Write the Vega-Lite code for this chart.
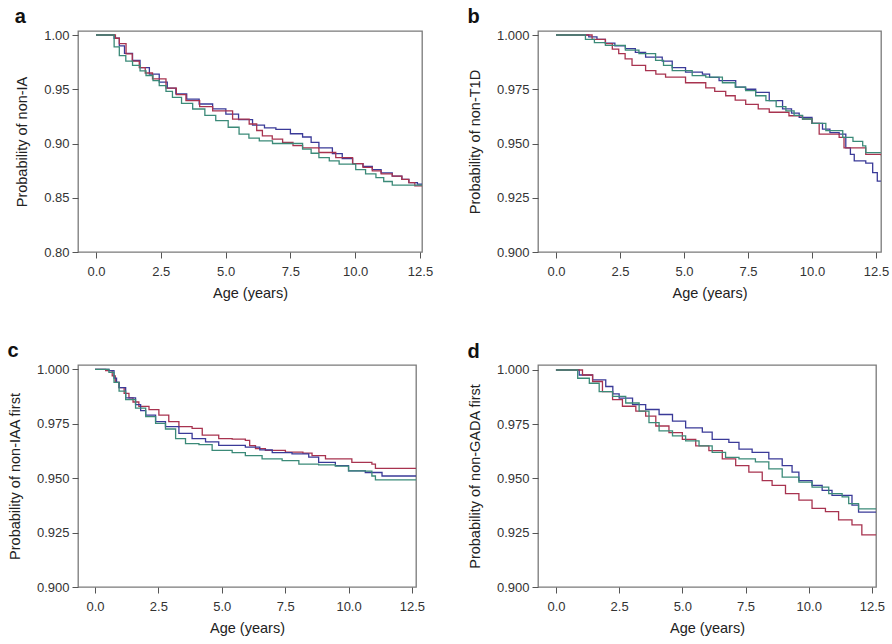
{
"$schema": "https://vega.github.io/schema/vega-lite/v6.json",
"padding": {"left": 6, "top": 6, "right": 5, "bottom": 3},
"background": "white",
"columns": 2,
"bounds": "flush",
"spacing": {"row": 113, "column": 116},
"config": {
  "font": "Liberation Sans",
  "view": {"stroke": "#7a7a7a", "strokeWidth": 1.3},
  "axis": {"grid": false, "domain": false, "tickColor": "#555", "tickSize": 6, "labelFontSize": 13, "labelColor": "#333", "titleFontSize": 14.5, "titleFontWeight": "normal", "titleColor": "#222", "labelPadding": 3},
  "axisX": {"labelPadding": 7, "titlePadding": 8},
  "axisY": {"titlePadding": 14},
  "title": {"anchor": "start", "frame": "bounds", "fontSize": 20, "fontWeight": "bold", "offset": 2, "color": "#111"}
},
"datasets": {
"a": [
{"age":0,"prob":1.0,"group":"G1"},{"age":0.6,"prob":1.0,"group":"G1"},{"age":0.7,"prob":0.997,"group":"G1"},{"age":0.9,"prob":0.99,"group":"G1"},{"age":1.1,"prob":0.983,"group":"G1"},{"age":1.41,"prob":0.9765,"group":"G1"},{"age":1.7,"prob":0.97,"group":"G1"},{"age":2.06,"prob":0.964,"group":"G1"},{"age":2.44,"prob":0.9565,"group":"G1"},{"age":2.75,"prob":0.951,"group":"G1"},{"age":3.08,"prob":0.9457,"group":"G1"},{"age":3.5,"prob":0.941,"group":"G1"},{"age":3.98,"prob":0.9364,"group":"G1"},{"age":4.5,"prob":0.932,"group":"G1"},{"age":5.01,"prob":0.927,"group":"G1"},{"age":5.5,"prob":0.922,"group":"G1"},{"age":6.04,"prob":0.917,"group":"G1"},{"age":6.5,"prob":0.9145,"group":"G1"},{"age":6.94,"prob":0.913,"group":"G1"},{"age":7.5,"prob":0.909,"group":"G1"},{"age":7.97,"prob":0.906,"group":"G1"},{"age":8.3,"prob":0.901,"group":"G1"},{"age":8.6,"prob":0.896,"group":"G1"},{"age":9.12,"prob":0.8907,"group":"G1"},{"age":9.5,"prob":0.886,"group":"G1"},{"age":9.9,"prob":0.8815,"group":"G1"},{"age":10.3,"prob":0.879,"group":"G1"},{"age":10.66,"prob":0.876,"group":"G1"},{"age":11.0,"prob":0.873,"group":"G1"},{"age":11.43,"prob":0.87,"group":"G1"},{"age":11.8,"prob":0.867,"group":"G1"},{"age":12.07,"prob":0.864,"group":"G1"},{"age":12.4,"prob":0.8625,"group":"G1"},{"age":12.58,"prob":0.8625,"group":"G1"},
{"age":0,"prob":1.0,"group":"G2"},{"age":0.6,"prob":1.0,"group":"G2"},{"age":0.75,"prob":0.997,"group":"G2"},{"age":0.9,"prob":0.992,"group":"G2"},{"age":1.16,"prob":0.9827,"group":"G2"},{"age":1.4,"prob":0.976,"group":"G2"},{"age":1.67,"prob":0.97,"group":"G2"},{"age":1.9,"prob":0.965,"group":"G2"},{"age":2.18,"prob":0.9596,"group":"G2"},{"age":2.7,"prob":0.951,"group":"G2"},{"age":3.1,"prob":0.945,"group":"G2"},{"age":3.47,"prob":0.9395,"group":"G2"},{"age":4.0,"prob":0.934,"group":"G2"},{"age":4.5,"prob":0.93,"group":"G2"},{"age":5.27,"prob":0.9225,"group":"G2"},{"age":5.91,"prob":0.918,"group":"G2"},{"age":6.2,"prob":0.912,"group":"G2"},{"age":6.42,"prob":0.907,"group":"G2"},{"age":6.8,"prob":0.904,"group":"G2"},{"age":7.2,"prob":0.901,"group":"G2"},{"age":7.6,"prob":0.898,"group":"G2"},{"age":7.97,"prob":0.896,"group":"G2"},{"age":8.6,"prob":0.8917,"group":"G2"},{"age":9.25,"prob":0.887,"group":"G2"},{"age":9.9,"prob":0.8815,"group":"G2"},{"age":10.3,"prob":0.878,"group":"G2"},{"age":10.66,"prob":0.8747,"group":"G2"},{"age":11.0,"prob":0.872,"group":"G2"},{"age":11.43,"prob":0.87,"group":"G2"},{"age":11.8,"prob":0.867,"group":"G2"},{"age":12.07,"prob":0.864,"group":"G2"},{"age":12.3,"prob":0.861,"group":"G2"},{"age":12.58,"prob":0.861,"group":"G2"},
{"age":0,"prob":1.0,"group":"G3"},{"age":0.6,"prob":1.0,"group":"G3"},{"age":0.7,"prob":0.989,"group":"G3"},{"age":0.9,"prob":0.981,"group":"G3"},{"age":1.15,"prob":0.976,"group":"G3"},{"age":1.41,"prob":0.972,"group":"G3"},{"age":1.7,"prob":0.967,"group":"G3"},{"age":1.93,"prob":0.9627,"group":"G3"},{"age":2.2,"prob":0.958,"group":"G3"},{"age":2.44,"prob":0.9534,"group":"G3"},{"age":2.7,"prob":0.948,"group":"G3"},{"age":2.95,"prob":0.9426,"group":"G3"},{"age":3.3,"prob":0.937,"group":"G3"},{"age":3.73,"prob":0.9318,"group":"G3"},{"age":4.2,"prob":0.926,"group":"G3"},{"age":4.62,"prob":0.921,"group":"G3"},{"age":5.1,"prob":0.915,"group":"G3"},{"age":5.52,"prob":0.9086,"group":"G3"},{"age":5.9,"prob":0.905,"group":"G3"},{"age":6.3,"prob":0.9025,"group":"G3"},{"age":6.81,"prob":0.9,"group":"G3"},{"age":7.45,"prob":0.9,"group":"G3"},{"age":7.97,"prob":0.8948,"group":"G3"},{"age":8.3,"prob":0.891,"group":"G3"},{"age":8.6,"prob":0.887,"group":"G3"},{"age":9.0,"prob":0.884,"group":"G3"},{"age":9.38,"prob":0.881,"group":"G3"},{"age":10.02,"prob":0.876,"group":"G3"},{"age":10.4,"prob":0.872,"group":"G3"},{"age":10.8,"prob":0.8685,"group":"G3"},{"age":11.1,"prob":0.865,"group":"G3"},{"age":11.43,"prob":0.8617,"group":"G3"},{"age":12.58,"prob":0.8617,"group":"G3"}
],
"b": [
{"age":0,"prob":1.0,"group":"G1"},{"age":0.76,"prob":1.0,"group":"G1"},{"age":1.28,"prob":0.9991,"group":"G1"},{"age":1.6,"prob":0.998,"group":"G1"},{"age":1.93,"prob":0.9963,"group":"G1"},{"age":2.3,"prob":0.995,"group":"G1"},{"age":2.71,"prob":0.9937,"group":"G1"},{"age":3.1,"prob":0.992,"group":"G1"},{"age":3.5,"prob":0.9898,"group":"G1"},{"age":4.15,"prob":0.988,"group":"G1"},{"age":4.54,"prob":0.985,"group":"G1"},{"age":5.06,"prob":0.9829,"group":"G1"},{"age":5.72,"prob":0.982,"group":"G1"},{"age":6.0,"prob":0.9805,"group":"G1"},{"age":6.37,"prob":0.979,"group":"G1"},{"age":7.02,"prob":0.976,"group":"G1"},{"age":7.4,"prob":0.975,"group":"G1"},{"age":7.8,"prob":0.9736,"group":"G1"},{"age":8.33,"prob":0.9698,"group":"G1"},{"age":8.85,"prob":0.966,"group":"G1"},{"age":9.2,"prob":0.964,"group":"G1"},{"age":9.5,"prob":0.962,"group":"G1"},{"age":10.0,"prob":0.9593,"group":"G1"},{"age":10.41,"prob":0.9566,"group":"G1"},{"age":10.7,"prob":0.955,"group":"G1"},{"age":11.06,"prob":0.9543,"group":"G1"},{"age":11.32,"prob":0.948,"group":"G1"},{"age":11.5,"prob":0.945,"group":"G1"},{"age":11.65,"prob":0.942,"group":"G1"},{"age":12.1,"prob":0.941,"group":"G1"},{"age":12.37,"prob":0.9366,"group":"G1"},{"age":12.55,"prob":0.9327,"group":"G1"},{"age":12.69,"prob":0.9327,"group":"G1"},
{"age":0,"prob":1.0,"group":"G2"},{"age":1.02,"prob":1.0,"group":"G2"},{"age":1.41,"prob":0.998,"group":"G2"},{"age":1.93,"prob":0.996,"group":"G2"},{"age":2.2,"prob":0.9935,"group":"G2"},{"age":2.45,"prob":0.9914,"group":"G2"},{"age":2.7,"prob":0.989,"group":"G2"},{"age":2.97,"prob":0.986,"group":"G2"},{"age":3.5,"prob":0.9836,"group":"G2"},{"age":3.9,"prob":0.982,"group":"G2"},{"age":4.28,"prob":0.9806,"group":"G2"},{"age":5.06,"prob":0.978,"group":"G2"},{"age":5.85,"prob":0.9756,"group":"G2"},{"age":6.2,"prob":0.974,"group":"G2"},{"age":6.63,"prob":0.972,"group":"G2"},{"age":7.0,"prob":0.97,"group":"G2"},{"age":7.41,"prob":0.968,"group":"G2"},{"age":7.9,"prob":0.966,"group":"G2"},{"age":8.33,"prob":0.9644,"group":"G2"},{"age":9.1,"prob":0.9628,"group":"G2"},{"age":9.63,"prob":0.9613,"group":"G2"},{"age":10.0,"prob":0.9593,"group":"G2"},{"age":10.28,"prob":0.9543,"group":"G2"},{"age":11.06,"prob":0.9528,"group":"G2"},{"age":11.25,"prob":0.948,"group":"G2"},{"age":11.98,"prob":0.948,"group":"G2"},{"age":12.1,"prob":0.945,"group":"G2"},{"age":12.69,"prob":0.9446,"group":"G2"},
{"age":0,"prob":1.0,"group":"G3"},{"age":0.76,"prob":1.0,"group":"G3"},{"age":1.15,"prob":0.998,"group":"G3"},{"age":1.5,"prob":0.9965,"group":"G3"},{"age":1.93,"prob":0.9952,"group":"G3"},{"age":2.71,"prob":0.993,"group":"G3"},{"age":3.24,"prob":0.9914,"group":"G3"},{"age":3.89,"prob":0.9883,"group":"G3"},{"age":4.2,"prob":0.986,"group":"G3"},{"age":4.54,"prob":0.9836,"group":"G3"},{"age":5.32,"prob":0.9813,"group":"G3"},{"age":5.85,"prob":0.9806,"group":"G3"},{"age":6.5,"prob":0.978,"group":"G3"},{"age":7.0,"prob":0.976,"group":"G3"},{"age":7.41,"prob":0.9744,"group":"G3"},{"age":7.8,"prob":0.972,"group":"G3"},{"age":8.2,"prob":0.9698,"group":"G3"},{"age":8.6,"prob":0.967,"group":"G3"},{"age":8.98,"prob":0.965,"group":"G3"},{"age":9.3,"prob":0.963,"group":"G3"},{"age":9.63,"prob":0.9613,"group":"G3"},{"age":10.0,"prob":0.9593,"group":"G3"},{"age":10.54,"prob":0.9559,"group":"G3"},{"age":11.2,"prob":0.9528,"group":"G3"},{"age":11.6,"prob":0.951,"group":"G3"},{"age":11.98,"prob":0.9489,"group":"G3"},{"age":12.1,"prob":0.9458,"group":"G3"},{"age":12.69,"prob":0.9458,"group":"G3"}
],
"c": [
{"age":0,"prob":1.0,"group":"G2"},{"age":0.3,"prob":1.0,"group":"G2"},{"age":0.42,"prob":0.9994,"group":"G2"},{"age":0.68,"prob":0.997,"group":"G2"},{"age":0.8,"prob":0.994,"group":"G2"},{"age":0.95,"prob":0.9916,"group":"G2"},{"age":1.15,"prob":0.989,"group":"G2"},{"age":1.34,"prob":0.9869,"group":"G2"},{"age":1.5,"prob":0.985,"group":"G2"},{"age":1.73,"prob":0.983,"group":"G2"},{"age":2.13,"prob":0.9815,"group":"G2"},{"age":2.52,"prob":0.979,"group":"G2"},{"age":2.91,"prob":0.976,"group":"G2"},{"age":3.31,"prob":0.9737,"group":"G2"},{"age":3.83,"prob":0.9729,"group":"G2"},{"age":4.23,"prob":0.9698,"group":"G2"},{"age":4.88,"prob":0.9682,"group":"G2"},{"age":5.41,"prob":0.9679,"group":"G2"},{"age":5.93,"prob":0.9674,"group":"G2"},{"age":6.1,"prob":0.965,"group":"G2"},{"age":6.33,"prob":0.9636,"group":"G2"},{"age":6.72,"prob":0.9628,"group":"G2"},{"age":7.51,"prob":0.962,"group":"G2"},{"age":8.2,"prob":0.9615,"group":"G2"},{"age":8.56,"prob":0.9604,"group":"G2"},{"age":9.09,"prob":0.9589,"group":"G2"},{"age":10.13,"prob":0.9573,"group":"G2"},{"age":10.92,"prob":0.9565,"group":"G2"},{"age":11.06,"prob":0.9545,"group":"G2"},{"age":12.66,"prob":0.9545,"group":"G2"},
{"age":0,"prob":1.0,"group":"G1"},{"age":0.4,"prob":1.0,"group":"G1"},{"age":0.55,"prob":0.9994,"group":"G1"},{"age":0.75,"prob":0.996,"group":"G1"},{"age":0.85,"prob":0.994,"group":"G1"},{"age":0.95,"prob":0.9916,"group":"G1"},{"age":1.21,"prob":0.9869,"group":"G1"},{"age":1.6,"prob":0.9838,"group":"G1"},{"age":1.8,"prob":0.981,"group":"G1"},{"age":2.0,"prob":0.979,"group":"G1"},{"age":2.39,"prob":0.976,"group":"G1"},{"age":2.78,"prob":0.9737,"group":"G1"},{"age":3.31,"prob":0.9706,"group":"G1"},{"age":3.83,"prob":0.9682,"group":"G1"},{"age":4.36,"prob":0.9667,"group":"G1"},{"age":4.88,"prob":0.9651,"group":"G1"},{"age":5.41,"prob":0.9651,"group":"G1"},{"age":5.93,"prob":0.9643,"group":"G1"},{"age":6.5,"prob":0.963,"group":"G1"},{"age":6.99,"prob":0.9617,"group":"G1"},{"age":7.77,"prob":0.9612,"group":"G1"},{"age":8.43,"prob":0.9597,"group":"G1"},{"age":8.82,"prob":0.9573,"group":"G1"},{"age":9.48,"prob":0.9558,"group":"G1"},{"age":10.0,"prob":0.9534,"group":"G1"},{"age":10.66,"prob":0.9526,"group":"G1"},{"age":11.32,"prob":0.951,"group":"G1"},{"age":12.66,"prob":0.951,"group":"G1"},
{"age":0,"prob":1.0,"group":"G3"},{"age":0.4,"prob":1.0,"group":"G3"},{"age":0.55,"prob":0.9986,"group":"G3"},{"age":0.75,"prob":0.994,"group":"G3"},{"age":0.95,"prob":0.99,"group":"G3"},{"age":1.21,"prob":0.9861,"group":"G3"},{"age":1.6,"prob":0.9822,"group":"G3"},{"age":2.0,"prob":0.9783,"group":"G3"},{"age":2.39,"prob":0.9752,"group":"G3"},{"age":2.78,"prob":0.9726,"group":"G3"},{"age":3.18,"prob":0.9682,"group":"G3"},{"age":3.57,"prob":0.9659,"group":"G3"},{"age":4.1,"prob":0.9654,"group":"G3"},{"age":4.62,"prob":0.9628,"group":"G3"},{"age":5.41,"prob":0.9617,"group":"G3"},{"age":5.93,"prob":0.9604,"group":"G3"},{"age":6.59,"prob":0.9589,"group":"G3"},{"age":7.38,"prob":0.9581,"group":"G3"},{"age":8.04,"prob":0.9565,"group":"G3"},{"age":8.82,"prob":0.9561,"group":"G3"},{"age":9.48,"prob":0.9555,"group":"G3"},{"age":10.0,"prob":0.9534,"group":"G3"},{"age":10.66,"prob":0.9532,"group":"G3"},{"age":10.92,"prob":0.951,"group":"G3"},{"age":11.06,"prob":0.9492,"group":"G3"},{"age":12.66,"prob":0.9492,"group":"G3"}
],
"d": [
{"age":0,"prob":1.0,"group":"G1"},{"age":0.53,"prob":1.0,"group":"G1"},{"age":0.92,"prob":0.9977,"group":"G1"},{"age":1.45,"prob":0.9954,"group":"G1"},{"age":1.97,"prob":0.9924,"group":"G1"},{"age":2.25,"prob":0.989,"group":"G1"},{"age":2.5,"prob":0.987,"group":"G1"},{"age":3.03,"prob":0.984,"group":"G1"},{"age":3.55,"prob":0.9818,"group":"G1"},{"age":4.08,"prob":0.9795,"group":"G1"},{"age":4.61,"prob":0.9764,"group":"G1"},{"age":5.13,"prob":0.9733,"group":"G1"},{"age":5.79,"prob":0.9714,"group":"G1"},{"age":6.18,"prob":0.968,"group":"G1"},{"age":6.84,"prob":0.9666,"group":"G1"},{"age":7.24,"prob":0.9635,"group":"G1"},{"age":7.76,"prob":0.962,"group":"G1"},{"age":8.42,"prob":0.959,"group":"G1"},{"age":8.95,"prob":0.9559,"group":"G1"},{"age":9.34,"prob":0.9529,"group":"G1"},{"age":9.61,"prob":0.949,"group":"G1"},{"age":10.13,"prob":0.9468,"group":"G1"},{"age":10.53,"prob":0.9445,"group":"G1"},{"age":10.92,"prob":0.9422,"group":"G1"},{"age":11.58,"prob":0.9422,"group":"G1"},{"age":11.71,"prob":0.9377,"group":"G1"},{"age":11.97,"prob":0.9345,"group":"G1"},{"age":12.66,"prob":0.9345,"group":"G1"},
{"age":0,"prob":1.0,"group":"G2"},{"age":0.7,"prob":1.0,"group":"G2"},{"age":1.05,"prob":0.9977,"group":"G2"},{"age":1.45,"prob":0.9947,"group":"G2"},{"age":1.84,"prob":0.99,"group":"G2"},{"age":2.24,"prob":0.9863,"group":"G2"},{"age":2.63,"prob":0.9833,"group":"G2"},{"age":3.16,"prob":0.981,"group":"G2"},{"age":3.55,"prob":0.9787,"group":"G2"},{"age":3.95,"prob":0.9742,"group":"G2"},{"age":4.47,"prob":0.9711,"group":"G2"},{"age":5.0,"prob":0.968,"group":"G2"},{"age":5.53,"prob":0.965,"group":"G2"},{"age":6.05,"prob":0.9628,"group":"G2"},{"age":6.58,"prob":0.959,"group":"G2"},{"age":7.11,"prob":0.9559,"group":"G2"},{"age":7.63,"prob":0.9529,"group":"G2"},{"age":8.16,"prob":0.949,"group":"G2"},{"age":8.55,"prob":0.9468,"group":"G2"},{"age":9.08,"prob":0.943,"group":"G2"},{"age":9.61,"prob":0.94,"group":"G2"},{"age":10.13,"prob":0.9362,"group":"G2"},{"age":10.66,"prob":0.9347,"group":"G2"},{"age":11.18,"prob":0.9309,"group":"G2"},{"age":11.71,"prob":0.9286,"group":"G2"},{"age":12.1,"prob":0.924,"group":"G2"},{"age":12.66,"prob":0.924,"group":"G2"},
{"age":0,"prob":1.0,"group":"G3"},{"age":0.65,"prob":1.0,"group":"G3"},{"age":0.86,"prob":0.9962,"group":"G3"},{"age":1.32,"prob":0.9939,"group":"G3"},{"age":1.71,"prob":0.99,"group":"G3"},{"age":2.24,"prob":0.9878,"group":"G3"},{"age":2.76,"prob":0.9848,"group":"G3"},{"age":3.29,"prob":0.981,"group":"G3"},{"age":3.68,"prob":0.9757,"group":"G3"},{"age":4.08,"prob":0.9719,"group":"G3"},{"age":4.61,"prob":0.9696,"group":"G3"},{"age":5.13,"prob":0.9673,"group":"G3"},{"age":5.66,"prob":0.965,"group":"G3"},{"age":6.18,"prob":0.962,"group":"G3"},{"age":6.71,"prob":0.9597,"group":"G3"},{"age":7.24,"prob":0.959,"group":"G3"},{"age":7.89,"prob":0.9577,"group":"G3"},{"age":8.42,"prob":0.9544,"group":"G3"},{"age":8.95,"prob":0.9506,"group":"G3"},{"age":9.61,"prob":0.9483,"group":"G3"},{"age":10.13,"prob":0.946,"group":"G3"},{"age":10.79,"prob":0.943,"group":"G3"},{"age":11.32,"prob":0.9415,"group":"G3"},{"age":11.58,"prob":0.9384,"group":"G3"},{"age":11.97,"prob":0.936,"group":"G3"},{"age":12.66,"prob":0.936,"group":"G3"}
]
},
"concat": [
{
  "title": "a", "data": {"name": "a"}, "width": 344, "height": 221,
  "mark": {"type": "line", "interpolate": "step-after", "strokeWidth": 1.3, "clip": true},
  "encoding": {
    "x": {"field": "age", "type": "quantitative", "title": "Age (years)", "scale": {"domain": [-0.694, 12.577], "nice": false, "zero": false}, "axis": {"values": [0, 2.5, 5, 7.5, 10, 12.5], "format": ".1f"}},
    "y": {"field": "prob", "type": "quantitative", "title": "Probability of non-IA", "scale": {"domain": [0.8, 1.0037], "nice": false, "zero": false}, "axis": {"values": [0.8, 0.85, 0.9, 0.95, 1.0], "format": ".2f"}},
    "color": {"field": "group", "type": "nominal", "legend": null, "scale": {"domain": ["G1", "G2", "G3"], "range": ["#3a3a98", "#a8334f", "#3b8a78"]}}
  }
},
{
  "title": "b", "data": {"name": "b"}, "width": 343, "height": 221,
  "mark": {"type": "line", "interpolate": "step-after", "strokeWidth": 1.3, "clip": true},
  "encoding": {
    "x": {"field": "age", "type": "quantitative", "title": "Age (years)", "scale": {"domain": [-0.703, 12.695], "nice": false, "zero": false}, "axis": {"values": [0, 2.5, 5, 7.5, 10, 12.5], "format": ".1f"}},
    "y": {"field": "prob", "type": "quantitative", "title": "Probability of non-T1D", "scale": {"domain": [0.9, 1.00185], "nice": false, "zero": false}, "axis": {"values": [0.9, 0.925, 0.95, 0.975, 1.0], "format": ".3f"}},
    "color": {"field": "group", "type": "nominal", "legend": null, "scale": {"domain": ["G1", "G2", "G3"], "range": ["#3a3a98", "#a8334f", "#3b8a78"]}}
  }
},
{
  "title": "c", "data": {"name": "c"}, "width": 338, "height": 222,
  "mark": {"type": "line", "interpolate": "step-after", "strokeWidth": 1.3, "clip": true},
  "encoding": {
    "x": {"field": "age", "type": "quantitative", "title": "Age (years)", "scale": {"domain": [-0.67, 12.66], "nice": false, "zero": false}, "axis": {"values": [0, 2.5, 5, 7.5, 10, 12.5], "format": ".1f"}},
    "y": {"field": "prob", "type": "quantitative", "title": "Probability of non-IAA first", "scale": {"domain": [0.9, 1.002], "nice": false, "zero": false}, "axis": {"values": [0.9, 0.925, 0.95, 0.975, 1.0], "format": ".3f"}},
    "color": {"field": "group", "type": "nominal", "legend": null, "scale": {"domain": ["G1", "G2", "G3"], "range": ["#3a3a98", "#a8334f", "#3b8a78"]}}
  }
},
{
  "title": "d", "data": {"name": "d"}, "width": 338, "height": 222,
  "mark": {"type": "line", "interpolate": "step-after", "strokeWidth": 1.3, "clip": true},
  "encoding": {
    "x": {"field": "age", "type": "quantitative", "title": "Age (years)", "scale": {"domain": [-0.71, 12.66], "nice": false, "zero": false}, "axis": {"values": [0, 2.5, 5, 7.5, 10, 12.5], "format": ".1f"}},
    "y": {"field": "prob", "type": "quantitative", "title": "Probability of non-GADA first", "scale": {"domain": [0.9, 1.0023], "nice": false, "zero": false}, "axis": {"values": [0.9, 0.925, 0.95, 0.975, 1.0], "format": ".3f"}},
    "color": {"field": "group", "type": "nominal", "legend": null, "scale": {"domain": ["G1", "G2", "G3"], "range": ["#3a3a98", "#a8334f", "#3b8a78"]}}
  }
}
]
}
